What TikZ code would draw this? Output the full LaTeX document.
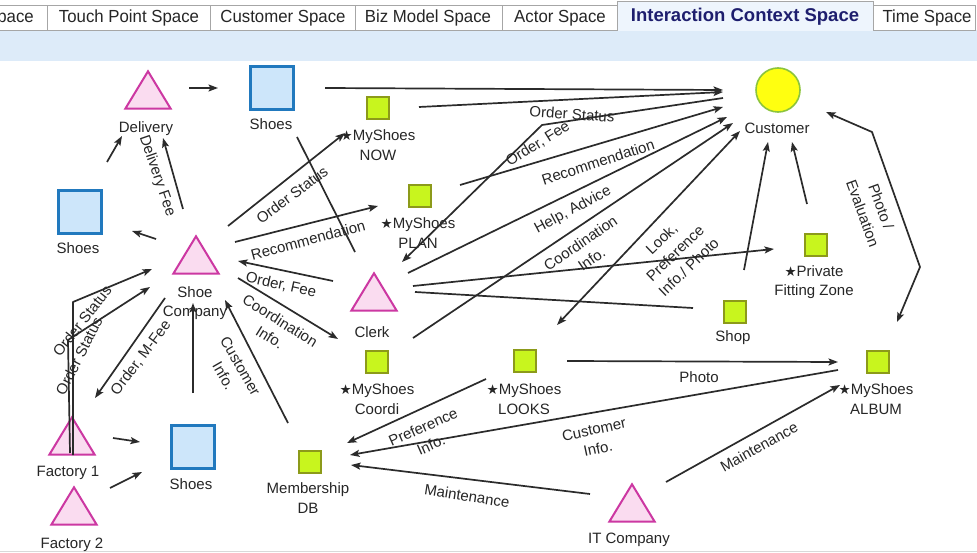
\documentclass[tikz,border=0pt]{standalone}
\usepackage{fontspec}
\setmainfont{Liberation Sans}
\newfontfamily\symfont{DejaVu Sans}
\newfontfamily\tabfont[FakeStretch=0.96]{Liberation Sans}
\usetikzlibrary{arrows.meta}

\definecolor{ink}{HTML}{2B2B2B}
\definecolor{txt}{HTML}{262626}
\definecolor{trifill}{HTML}{FADCF0}
\definecolor{triline}{HTML}{CC38A2}
\definecolor{bluefill}{HTML}{CDE6FA}
\definecolor{blueline}{HTML}{2179BE}
\definecolor{greenfill}{HTML}{C8F51E}
\definecolor{greenline}{HTML}{8C9A1A}
\definecolor{custfill}{HTML}{FFFF10}
\definecolor{custline}{HTML}{8CC43C}
\definecolor{band}{HTML}{DDEBF9}
\definecolor{tabline}{HTML}{A6A6A6}
\definecolor{activetab}{HTML}{EEF5FD}
\definecolor{activetxt}{HTML}{1E1E6E}

\newcommand\mystar{{\symfont\fontsize{13.5}{13.5}\selectfont ★}}

\tikzset{
  lbl/.style={font=\fontsize{15}{19.5}\selectfont, text=txt, align=center, inner sep=0pt},
  elbl/.style={lbl},
  tip/.tip={Stealth[length=9.5pt,width=7pt,inset=2pt]},
  arr/.style={draw=ink, line width=1.7pt, line join=round, -tip},
  darr/.style={draw=ink, line width=1.7pt, line join=round, tip-tip},
  plain/.style={draw=ink, line width=1.7pt},
  trinode/.style={rectangle, inner sep=0pt, minimum width=45pt, minimum height=37pt},
  trishape/.style={draw=triline, fill=trifill, line width=2pt, line join=miter},
  bigsq/.style={rectangle, draw=blueline, fill=bluefill, line width=2.6pt, minimum size=42.5pt, inner sep=0pt},
  smsq/.style={rectangle, draw=greenline, fill=greenfill, line width=1.6pt, minimum size=21.5pt, inner sep=0pt},
  custc/.style={circle, draw=custline, fill=custfill, line width=1.6pt, minimum size=44pt, inner sep=0pt},
  tabbox/.style={draw=tabline, fill=white, line width=0.8pt},
  tabtxt/.style={font=\tabfont\fontsize{17.5}{17.5}\selectfont, text=black!85, inner sep=0pt},
}

% a pink triangle actor: named frame node plus its outline
\newcommand\actortri[2]{%
  \node[trinode] (#1) at (#2) {};
  \filldraw[trishape] (#1.south west) -- (#1.south east) -- (#1.north) -- cycle;}

\begin{document}
\begin{tikzpicture}[x=1pt,y=-1pt]
\useasboundingbox (0,0) rectangle (977,553);
\fill[white] (0,0) rectangle (977,553);

% ---------- tab strip ----------
\fill[band] (0,30) rectangle (977,61);
\begin{scope}
  \clip (0,0) rectangle (977,40);
  \draw[tabbox] (-20,5) rectangle (47,30);
  \node[tabtxt, anchor=east] (t0) at (34,18) {Space};
\end{scope}
\draw[tabbox] (47,5) rectangle (210,30);
\node[tabtxt] (t1) at (129,18) {Touch Point Space};
\draw[tabbox] (210,5) rectangle (355,30);
\node[tabtxt] (t2) at (283,18) {Customer Space};
\draw[tabbox] (355,5) rectangle (502,30);
\node[tabtxt] (t3) at (428,18) {Biz Model Space};
\draw[tabbox] (502,5) rectangle (617,30);
\node[tabtxt] (t4) at (560,18) {Actor Space};
\draw[tabbox] (873,5) rectangle (975,30);
\node[tabtxt] (t6) at (927,18) {Time Space};
\fill[activetab] (617,1) rectangle (873,31);
\draw[draw=tabline, line width=0.8pt] (617,31) -- (617,1) -- (873,1) -- (873,31);
\node[font=\fontsize{18.5}{18.5}\selectfont\bfseries, text=activetxt, inner sep=0pt] (t5) at (745,17) {Interaction Context Space};
\draw[draw=black!15, line width=1pt] (0,551) -- (977,551);

% ---------- actors, objects and touch points ----------
\actortri{deliv}{148,90}
\actortri{shoeco}{196,255}
\actortri{clerk}{374,292}
\actortri{fac1}{72,436}
\actortri{fac2}{74,506}
\actortri{itco}{632,503}

\node[bigsq] (shoesT) at (272,88) {};
\node[bigsq] (shoesL) at (80,212) {};
\node[bigsq] (shoesB) at (193,447) {};

\node[custc] (cust) at (778,90) {};

\node[smsq] (now) at (378,108) {};
\node[smsq] (plan) at (420,196) {};
\node[smsq] (pfz) at (816,245) {};
\node[smsq] (shop) at (735,312) {};
\node[smsq] (coordi) at (377,362) {};
\node[smsq] (looks) at (525,361) {};
\node[smsq] (album) at (878,362) {};
\node[smsq] (mdb) at (310,462) {};

% ---------- names ----------
\node[lbl] (Ldeliv) at (146,129) {Delivery};
\node[lbl] (LshoesT) at (271,124) {Shoes};
\node[lbl] (Lnow) at (378,145) {\mystar MyShoes\\NOW};
\node[lbl] (Lcust) at (777,128) {Customer};
\node[lbl] (LshoesL) at (78,248) {Shoes};
\node[lbl] (Lshoeco) at (195,303) {Shoe\\Company};
\node[lbl] (Lplan) at (418,233) {\mystar MyShoes\\PLAN};
\node[lbl] (Lclerk) at (372,332) {Clerk};
\node[lbl] (Lpfz) at (814,282) {\mystar Private\\Fitting Zone};
\node[lbl] (Lshop) at (733,338) {Shop};
\node[lbl] (Lcoordi) at (377,399) {\mystar MyShoes\\Coordi};
\node[lbl] (Llooks) at (524,399) {\mystar MyShoes\\LOOKS};
\node[lbl] (Lalbum) at (876,399) {\mystar MyShoes\\ALBUM};
\node[lbl] (Lfac1) at (68,473) {Factory 1};
\node[lbl] (Lfac2) at (72,545) {Factory 2};
\node[lbl] (LshoesB) at (191,484) {Shoes};
\node[lbl] (Lmdb) at (308,498) {Membership\\DB};
\node[lbl] (Litco) at (629,540) {IT Company};

% ---------- flows ----------
\draw[arr] ([shift={(41,-2)}]deliv.center) -- ([shift={(-54,0)}]shoesT.center);
\draw[arr] ([shift={(27,-50)}]shoesL.center) -- ([shift={(-26,46)}]deliv.center);
\draw[arr] ([shift={(-13,-46)}]shoeco.center) -- ([shift={(15,48)}]deliv.center);
\draw[arr] ([shift={(-40,-16)}]shoeco.center) -- ([shift={(52,19)}]shoesL.center);
\draw[arr] ([shift={(32,-29)}]shoeco.center) -- ([shift={(-33,25)}]now.center);
\draw[arr] ([shift={(39,-13)}]shoeco.center) -- ([shift={(-42,10)}]plan.center);
\draw[plain] ([shift={(25,49)}]shoesT.center) -- ([shift={(-19,-40)}]clerk.center);
\draw[arr] ([shift={(-41,-11)}]clerk.center) -- ([shift={(42,6)}]shoeco.center);
\draw[arr] ([shift={(42,23)}]shoeco.center) -- ([shift={(-39,-23)}]coordi.center);
\draw[arr] ([shift={(-22,-39)}]mdb.center) -- ([shift={(29,45)}]shoeco.center);
\draw[arr] ([shift={(0,-54)}]shoesB.center) -- ([shift={(-3,48)}]shoeco.center);
\draw[arr] ([shift={(-31,43)}]shoeco.center) -- ([shift={(23,-38)}]fac1.center);
\draw[arr] ([shift={(1,19)}]fac1.center) -- ([shift={(1,-134)}]fac1.center) -- ([shift={(-44,14)}]shoeco.center);
\draw[arr] ([shift={(-2,17)}]fac1.center) -- ([shift={(-4,-96)}]fac1.center) -- ([shift={(-46,32)}]shoeco.center);
\draw[arr] ([shift={(41,2)}]fac1.center) -- ([shift={(-53,-5)}]shoesB.center);
\draw[arr] ([shift={(36,-18)}]fac2.center) -- ([shift={(-51,25)}]shoesB.center);

\draw[arr] ([shift={(53,0)}]shoesT.center) -- ([shift={(-55,0)}]cust.center);
\draw[arr] ([shift={(41,-1)}]now.center) -- ([shift={(-55,2)}]cust.center);
\draw[arr] ([shift={(-55,8)}]cust.center) -- ([shift={(168,-167)}]clerk.center) -- ([shift={(28,-30)}]clerk.center);
\draw[arr] ([shift={(40,-11)}]plan.center) -- ([shift={(-55,17)}]cust.center);
\draw[arr] ([shift={(34,-19)}]clerk.center) -- ([shift={(-51,27)}]cust.center);
\draw[arr] ([shift={(36,-24)}]coordi.center) -- ([shift={(-45,33)}]cust.center);
\draw[darr] ([shift={(-38,41)}]cust.center) -- ([shift={(32,-36)}]looks.center);
\draw[arr] ([shift={(9,-42)}]shop.center) -- ([shift={(-10,52)}]cust.center);
\draw[arr] ([shift={(-9,-41)}]pfz.center) -- ([shift={(14,52)}]cust.center);
\draw[darr] ([shift={(48,22)}]cust.center) -- ([shift={(-6,-230)}]album.center) -- ([shift={(42,-95)}]album.center) -- ([shift={(19,-40)}]album.center);
\draw[arr] ([shift={(39,-6)}]clerk.center) -- ([shift={(-42,4)}]pfz.center);
\draw[plain] ([shift={(41,0)}]clerk.center) -- ([shift={(-42,-4)}]shop.center);

\draw[arr] ([shift={(42,0)}]looks.center) -- ([shift={(-40,0)}]album.center);
\draw[arr] ([shift={(-40,8)}]album.center) -- ([shift={(40,-7)}]mdb.center);
\draw[arr] ([shift={(-39,18)}]looks.center) -- ([shift={(37,-19)}]mdb.center);
\draw[arr] ([shift={(-42,-9)}]itco.center) -- ([shift={(41,3)}]mdb.center);
\draw[arr] ([shift={(34,-21)}]itco.center) -- ([shift={(-38,23)}]album.center);

% ---------- flow labels ----------
\node[elbl, rotate=-71] (e1) at (157,176) {Delivery Fee};
\node[elbl, rotate=37] (e2) at (292,195) {Order Status};
\node[elbl, rotate=15] (e3) at (308,240) {Recommendation};
\node[elbl, rotate=-12.5] (e4) at (281,285) {Order, Fee};
\node[elbl, rotate=-32] (e5) at (275,329) {Coordination\\Info.};
\node[elbl, rotate=-60] (e6) at (232,371) {Customer\\Info.};
\node[elbl, rotate=53] (e7) at (141,358) {Order, M-Fee};
\node[elbl, rotate=52] (e8) at (82,321) {Order Status};
\node[elbl, rotate=63] (e9) at (79,356) {Order Status};
\node[elbl, rotate=-4] (e10) at (572,114) {Order Status};
\node[elbl, rotate=32] (e11) at (538,144) {Order, Fee};
\node[elbl, rotate=18] (e12) at (598,162) {Recommendation};
\node[elbl, rotate=28] (e13) at (573,210) {Help, Advice};
\node[elbl, rotate=34.5] (e14) at (586,251) {Coordination\\Info.};
\node[elbl, rotate=44] (e15) at (675,253) {Look,\\Preference\\Info./ Photo};
\node[elbl, rotate=-70] (e16) at (872,210) {Photo /\\Evaluation};
\node[elbl] (e17) at (699,377) {Photo};
\node[elbl, rotate=12] (e18) at (596,439) {Customer\\Info.};
\node[elbl, rotate=24] (e19) at (427,436) {Preference\\Info.};
\node[elbl, rotate=-9] (e20) at (467,496) {Maintenance};
\node[elbl, rotate=29] (e21) at (759,447) {Maintenance};
\end{tikzpicture}
\end{document}
